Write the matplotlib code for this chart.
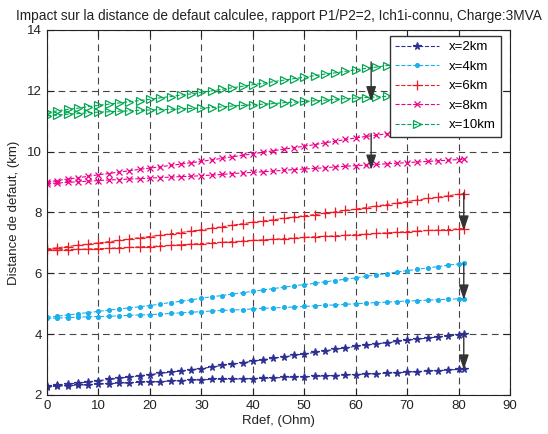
import matplotlib
matplotlib.use('Agg')
import matplotlib.pyplot as plt

plt.rcParams['font.family'] = ['Liberation Sans', 'DejaVu Sans']

# Rdef values (Ohm), read every 2 Ohm plus the last point
rdef = list(range(0, 81, 2)) + [81]

# Distance de defaut (km): upper and lower curve for each x
x2_up = [2.28, 2.32, 2.36, 2.39, 2.43, 2.47, 2.51, 2.55, 2.59, 2.63,
         2.67, 2.71, 2.75, 2.79, 2.83, 2.87, 2.92, 2.97, 3.01, 3.06,
         3.11, 3.16, 3.21, 3.25, 3.30, 3.35, 3.40, 3.45, 3.50, 3.55,
         3.60, 3.64, 3.68, 3.72, 3.76, 3.80, 3.84, 3.87, 3.91, 3.94,
         3.98, 4.01]
x2_low = [2.27, 2.29, 2.31, 2.32, 2.34, 2.36, 2.37, 2.39, 2.40, 2.42,
          2.43, 2.44, 2.46, 2.47, 2.49, 2.50, 2.51, 2.52, 2.52, 2.53,
          2.54, 2.55, 2.56, 2.58, 2.59, 2.60, 2.61, 2.63, 2.64, 2.66,
          2.67, 2.69, 2.70, 2.72, 2.73, 2.75, 2.77, 2.79, 2.80, 2.82,
          2.84, 2.85]
x4_up = [4.55, 4.59, 4.63, 4.67, 4.71, 4.75, 4.79, 4.83, 4.86, 4.90,
         4.94, 4.99, 5.04, 5.08, 5.13, 5.18, 5.23, 5.27, 5.32, 5.36,
         5.41, 5.45, 5.50, 5.54, 5.59, 5.63, 5.67, 5.72, 5.76, 5.81,
         5.85, 5.90, 5.95, 5.99, 6.04, 6.09, 6.13, 6.18, 6.22, 6.27,
         6.31, 6.33]
x4_low = [4.52, 4.53, 4.54, 4.56, 4.57, 4.58, 4.59, 4.60, 4.62, 4.63,
          4.64, 4.66, 4.68, 4.70, 4.72, 4.74, 4.76, 4.78, 4.79, 4.81,
          4.83, 4.85, 4.86, 4.88, 4.89, 4.91, 4.93, 4.95, 4.96, 4.98,
          5.00, 5.02, 5.04, 5.05, 5.07, 5.09, 5.10, 5.12, 5.13, 5.15,
          5.16, 5.17]
x6_up = [6.80, 6.84, 6.88, 6.92, 6.96, 7.00, 7.04, 7.08, 7.13, 7.17,
         7.21, 7.25, 7.30, 7.34, 7.39, 7.43, 7.48, 7.53, 7.58, 7.63,
         7.68, 7.72, 7.76, 7.81, 7.85, 7.89, 7.93, 7.98, 8.02, 8.07,
         8.11, 8.16, 8.21, 8.26, 8.31, 8.36, 8.41, 8.46, 8.50, 8.55,
         8.60, 8.62]
x6_low = [6.76, 6.77, 6.78, 6.79, 6.80, 6.81, 6.82, 6.84, 6.85, 6.87,
          6.88, 6.90, 6.92, 6.94, 6.96, 6.98, 7.00, 7.02, 7.04, 7.06,
          7.08, 7.10, 7.12, 7.14, 7.16, 7.18, 7.20, 7.22, 7.23, 7.25,
          7.27, 7.29, 7.31, 7.33, 7.35, 7.37, 7.39, 7.41, 7.42, 7.44,
          7.46, 7.47]
x8_up = [9.00, 9.05, 9.10, 9.14, 9.19, 9.24, 9.28, 9.33, 9.37, 9.42,
         9.46, 9.50, 9.55, 9.59, 9.64, 9.68, 9.73, 9.78, 9.83, 9.88,
         9.93, 9.98, 10.03, 10.08, 10.13, 10.18, 10.23, 10.29, 10.34, 10.40,
         10.45, 10.50, 10.54, 10.59, 10.63, 10.68, 10.73, 10.78, 10.82, 10.87,
         10.92, 10.95]
x8_low = [8.95, 8.97, 8.99, 9.01, 9.03, 9.05, 9.07, 9.08, 9.10, 9.11,
          9.13, 9.15, 9.16, 9.18, 9.19, 9.21, 9.23, 9.25, 9.28, 9.30,
          9.32, 9.34, 9.36, 9.39, 9.41, 9.43, 9.45, 9.47, 9.50, 9.52,
          9.54, 9.56, 9.58, 9.60, 9.62, 9.64, 9.66, 9.68, 9.70, 9.72,
          9.74, 9.75]
x10_up = [11.30, 11.34, 11.39, 11.43, 11.48, 11.52, 11.56, 11.60, 11.64, 11.68,
          11.72, 11.77, 11.81, 11.86, 11.90, 11.95, 12.00, 12.05, 12.10, 12.15,
          12.20, 12.25, 12.30, 12.35, 12.40, 12.45, 12.50, 12.55, 12.59, 12.64,
          12.69, 12.74, 12.78, 12.83, 12.87, 12.92, 12.97, 13.01, 13.06, 13.10,
          13.15, 13.17]
x10_low = [11.18, 11.20, 11.23, 11.25, 11.28, 11.30, 11.31, 11.33, 11.34, 11.36,
           11.37, 11.38, 11.39, 11.41, 11.42, 11.43, 11.45, 11.47, 11.50, 11.52,
           11.54, 11.56, 11.58, 11.61, 11.63, 11.65, 11.67, 11.69, 11.72, 11.74,
           11.76, 11.78, 11.80, 11.82, 11.84, 11.86, 11.88, 11.90, 11.92, 11.94,
           11.96, 11.97]

labels = ['x=2km', 'x=4km', 'x=6km', 'x=8km', 'x=10km']
upper = [x2_up, x4_up, x6_up, x8_up, x10_up]
lower = [x2_low, x4_low, x6_low, x8_low, x10_low]

# arrows from upper to lower curve
arrow_x = [81, 81, 81, 63, 63]
arrow_top = [4.0, 6.33, 8.65, 10.6, 12.95]
arrow_tip = [2.83, 5.13, 7.40, 9.40, 11.65]

colors = ['#2e3192', '#1cb0ec', '#ed1c24', '#ec008c', '#00a651']
markers = ['*', '.', '+', 'x', '>']
msizes = [5.5, 5.5, 7.5, 4.5, 6]

fig = plt.figure(figsize=(5.48, 4.34), dpi=100)
ax = fig.add_axes([0.0858, 0.0899, 0.845, 0.841])

for i in range(5):
    mfc = 'none' if markers[i] == '>' else colors[i]
    ax.plot(rdef, upper[i], linestyle='--', color=colors[i], marker=markers[i],
            markersize=msizes[i], markerfacecolor=mfc, linewidth=0.8,
            markeredgewidth=0.9, label=labels[i])
    ax.plot(rdef, lower[i], linestyle='--', color=colors[i], marker=markers[i],
            markersize=msizes[i], markerfacecolor=mfc, linewidth=0.8,
            markeredgewidth=0.9)

for xa, y0, y1 in zip(arrow_x, arrow_top, arrow_tip):
    ax.annotate('', xy=(xa, y1), xytext=(xa, y0),
                arrowprops=dict(arrowstyle='-|>,head_length=0.9,head_width=0.3',
                                color='#333333', lw=1, mutation_scale=10,
                                shrinkA=0, shrinkB=0))

ax.set_xlim(0, 90)
ax.set_ylim(2, 14)
ax.set_xticks(range(0, 91, 10))
ax.set_yticks(range(2, 15, 2))
ax.grid(True, linestyle=(0, (6, 4)), color='#444444', linewidth=0.8)
ax.tick_params(direction='in', top=True, right=True, labelsize=9.5, length=5,
               colors='#222222')
for s in ax.spines.values():
    s.set_color('#222222')

ax.set_title('Impact sur la distance de defaut calculee, rapport P1/P2=2, Ich1i-connu, Charge:3MVA',
             fontsize=9.8, pad=7, color='#222222')
ax.set_xlabel('Rdef, (Ohm)', fontsize=9.5, labelpad=2, color='#222222')
ax.set_ylabel('Distance de defaut, (km)', fontsize=9.5, labelpad=5, color='#222222')

leg = ax.legend(loc='upper right', bbox_to_anchor=(0.981, 0.984), borderaxespad=0,
                fontsize=9.5, handlelength=3.3, labelspacing=0.55, fancybox=False,
                framealpha=1, edgecolor='#333333')
leg.get_frame().set_linewidth(1.0)

fig.savefig('out.png', dpi=100)
